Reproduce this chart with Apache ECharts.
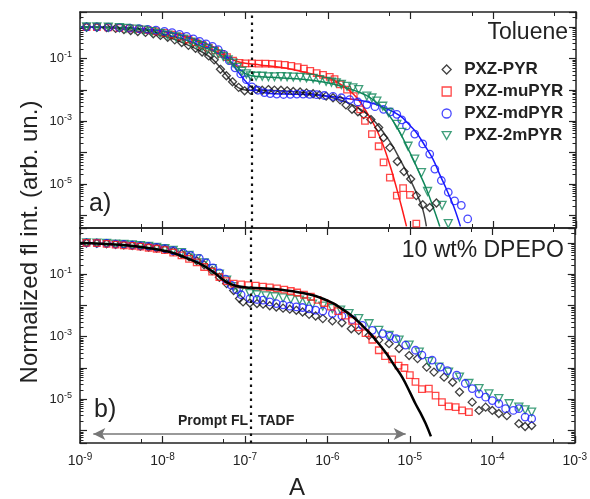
<!DOCTYPE html>
<html><head><meta charset="utf-8">
<script src="https://cdn.jsdelivr.net/npm/echarts@6/dist/echarts.min.js"></script>
<style>html,body{margin:0;padding:0;background:#fff}#c{width:590px;height:499px}</style>
</head><body><div id="c"></div>
<script>
// ---------- data (time in s, normalized intensity) ----------
const seriesNames = ['PXZ-PYR', 'PXZ-muPYR', 'PXZ-mdPYR', 'PXZ-2mPYR'];
const xTickExps = [-9, -8, -7, -6, -5, -4, -3];
const yTickExps = [-1, -3, -5];
const xRange = [1e-9, 1e-3];
const yRange = [4e-7, 3];
const splitTime = 1.19e-7;
const arrowSpan = [1.45e-9, 8.9e-6];
const arrowLevel = 7.8e-7;

// Toluene (panel a)
const tolPYR = [[1.2e-9,1.0],[1.6e-9,0.98],[2.1e-9,0.95],[2.7e-9,0.9],[3.4e-9,0.83],[4.1e-9,0.77],[5e-9,0.72],[6.2e-9,0.67],[7.7e-9,0.61],[9.4e-9,0.54],[1.15e-8,0.47],[1.4e-8,0.39],[1.7e-8,0.32],[2.05e-8,0.26],[2.5e-8,0.21],[3e-8,0.16],[3.6e-8,0.12],[4.2e-8,0.09],[5e-8,0.045],[5.9e-8,0.028],[7e-8,0.018],[8.3e-8,0.012],[9.8e-8,0.0093],[1.15e-7,0.0098],[1.35e-7,0.0103],[1.6e-7,0.0097],[1.9e-7,0.0102],[2.25e-7,0.0098],[2.7e-7,0.0097],[3.2e-7,0.0093],[3.8e-7,0.0089],[4.6e-7,0.0085],[5.5e-7,0.008],[6.6e-7,0.0075],[7.9e-7,0.0069],[9.5e-7,0.0063],[1.15e-6,0.0056],[1.4e-6,0.0048],[1.65e-6,0.0033],[1.95e-6,0.0024],[2.3e-6,0.002],[2.7e-6,0.00163],[3.3e-6,0.00113],[4.1e-6,0.00063],[4.7e-6,0.0003],[5.6e-6,0.000145],[6.9e-6,5.2e-5],[8.3e-6,2.5e-5],[1e-5,1.45e-5],[1.17e-5,4.3e-6],[1.4e-5,2.2e-6],[1.7e-5,1.8e-6],[2.05e-5,2.5e-6]];
const tolPYRFit = [[1e-9,1.0],[2e-9,0.96],[4e-9,0.8],[7e-9,0.64],[1.2e-8,0.46],[2e-8,0.27],[3e-8,0.16],[4e-8,0.095],[5e-8,0.05],[6e-8,0.028],[7.5e-8,0.014],[9e-8,0.0105],[1.2e-7,0.0097],[2e-7,0.0096],[3e-7,0.0092],[5e-7,0.0082],[1e-6,0.0061],[1.6e-6,0.0042],[2.3e-6,0.0027],[2.95e-6,0.0017],[3.8e-6,0.0009],[4.7e-6,0.00044],[6e-6,0.00017],[7.4e-6,6.2e-5],[9e-6,2.3e-5],[1.07e-5,8.9e-6],[1.2e-5,4.5e-6],[1.35e-5,2.1e-6],[1.45e-5,1.1e-6],[1.55e-5,4.5e-7]];
const tolMu = [[1.2e-9,1.0],[1.6e-9,1.0],[2.2e-9,0.97],[3e-9,0.94],[4e-9,0.9],[5.2e-9,0.85],[6.6e-9,0.8],[8.3e-9,0.73],[1.05e-8,0.65],[1.3e-8,0.57],[1.65e-8,0.49],[2.05e-8,0.4],[2.5e-8,0.33],[3e-8,0.27],[3.6e-8,0.22],[4.3e-8,0.18],[5.1e-8,0.14],[6e-8,0.11],[7.1e-8,0.085],[8.5e-8,0.072],[1e-7,0.069],[1.2e-7,0.069],[1.45e-7,0.068],[1.75e-7,0.068],[2.1e-7,0.067],[2.5e-7,0.065],[3e-7,0.062],[3.6e-7,0.058],[4.3e-7,0.053],[5.1e-7,0.047],[6.1e-7,0.04],[7.3e-7,0.034],[8.7e-7,0.03],[1.05e-6,0.026],[1.2e-6,0.022],[1.4e-6,0.015],[1.7e-6,0.0102],[2.05e-6,0.0063],[2.45e-6,0.0024],[2.8e-6,0.00102],[3.4e-6,0.00039],[4.1e-6,0.00016],[4.7e-6,4.9e-5],[5.6e-6,1.6e-5],[6.8e-6,4.3e-6],[8.1e-6,7.4e-6],[9.8e-6,4.5e-6],[1.17e-5,5.5e-7]];
const tolMuFit = [[1e-9,1.0],[3e-9,0.95],[7e-9,0.81],[1.2e-8,0.66],[1.8e-8,0.5],[2.5e-8,0.36],[3.4e-8,0.24],[4.3e-8,0.17],[5.4e-8,0.13],[6.5e-8,0.1],[8e-8,0.08],[1e-7,0.07],[1.5e-7,0.062],[2.9e-7,0.05],[4.6e-7,0.039],[7e-7,0.03],[1.15e-6,0.021],[1.6e-6,0.012],[2.05e-6,0.0071],[2.5e-6,0.0038],[2.95e-6,0.0019],[3.8e-6,0.0006],[4.7e-6,0.00016],[5.8e-6,3e-5],[6.8e-6,6.9e-6],[7.8e-6,1.8e-6],[8.9e-6,4.5e-7]];
const tolMd = [[1.2e-9,1.0],[1.6e-9,1.0],[2.2e-9,0.98],[3e-9,0.95],[4e-9,0.92],[5.2e-9,0.88],[6.6e-9,0.84],[8.3e-9,0.79],[1.05e-8,0.73],[1.3e-8,0.66],[1.6e-8,0.58],[1.95e-8,0.5],[2.35e-8,0.42],[2.8e-8,0.35],[3.35e-8,0.29],[4e-8,0.24],[4.7e-8,0.19],[5.5e-8,0.135],[6.4e-8,0.085],[7.5e-8,0.05],[8.8e-8,0.032],[1.03e-7,0.021],[1.2e-7,0.0125],[1.42e-7,0.0097],[1.7e-7,0.0082],[2e-7,0.0076],[2.4e-7,0.0073],[2.9e-7,0.0071],[3.5e-7,0.0072],[4.2e-7,0.0073],[5e-7,0.0073],[6e-7,0.0072],[7.3e-7,0.007],[9e-7,0.0066],[1.15e-6,0.0062],[1.45e-6,0.0056],[1.83e-6,0.0049],[2.3e-6,0.0041],[2.95e-6,0.0034],[3.7e-6,0.0029],[4.7e-6,0.0024],[5.7e-6,0.002],[6.8e-6,0.00166],[7.8e-6,0.0011],[8.9e-6,0.00071],[1.12e-5,0.00039],[1.4e-5,0.00019],[1.7e-5,9e-5],[1.96e-5,3e-5],[2.35e-5,1.3e-5],[2.85e-5,5.5e-6],[3.4e-5,2.9e-6],[4.1e-5,2.1e-6],[4.9e-5,7.8e-7]];
const tolMdFit = [[1e-9,1.0],[3e-9,0.96],[8e-9,0.8],[1.5e-8,0.6],[2.5e-8,0.4],[4e-8,0.24],[5e-8,0.17],[6e-8,0.11],[7e-8,0.065],[8e-8,0.04],[9e-8,0.027],[1e-7,0.019],[1.2e-7,0.012],[1.5e-7,0.0088],[2e-7,0.0076],[3e-7,0.0073],[4.6e-7,0.0072],[1.15e-6,0.006],[2.95e-6,0.0042],[5e-6,0.0026],[7.4e-6,0.0015],[9.5e-6,0.0008],[1.17e-5,0.00044],[1.5e-5,0.00016],[1.86e-5,6.2e-5],[2.25e-5,2e-5],[2.7e-5,7e-6],[3.3e-5,2e-6],[4e-5,4.5e-7]];
const tol2m = [[1.2e-9,1.0],[1.6e-9,1.0],[2.2e-9,0.98],[3e-9,0.95],[3.6e-9,0.91],[4.6e-9,0.86],[5.9e-9,0.79],[7.4e-9,0.71],[9.3e-9,0.63],[1.15e-8,0.55],[1.45e-8,0.48],[1.8e-8,0.41],[2.2e-8,0.33],[2.6e-8,0.28],[3e-8,0.24],[3.5e-8,0.2],[4.1e-8,0.166],[4.7e-8,0.14],[5.4e-8,0.115],[6.2e-8,0.09],[7.1e-8,0.071],[8e-8,0.052],[9.1e-8,0.039],[1.03e-7,0.032],[1.15e-7,0.028],[1.35e-7,0.027],[1.6e-7,0.027],[1.9e-7,0.026],[2.25e-7,0.026],[2.7e-7,0.0265],[3.2e-7,0.026],[3.8e-7,0.0255],[4.6e-7,0.025],[5.5e-7,0.024],[6.6e-7,0.023],[7.9e-7,0.021],[9.5e-7,0.0186],[1.1e-6,0.0175],[1.26e-6,0.0166],[1.45e-6,0.0148],[1.7e-6,0.0129],[2e-6,0.0115],[2.35e-6,0.0102],[2.95e-6,0.0063],[3.4e-6,0.0055],[3.9e-6,0.0044],[4.6e-6,0.003],[5.4e-6,0.0019],[6.8e-6,0.00079],[7.8e-6,0.00044],[9.3e-6,0.00016],[1.12e-5,6.2e-5],[1.35e-5,2.3e-5],[1.6e-5,5.8e-6],[2.4e-5,2.1e-6],[2.85e-5,5.5e-7]];
const tol2mFit = [[1e-9,1.0],[3e-9,0.95],[6e-9,0.8],[1e-8,0.6],[1.8e-8,0.41],[3e-8,0.24],[4.5e-8,0.15],[6e-8,0.095],[7.5e-8,0.06],[9e-8,0.04],[1.05e-7,0.031],[1.3e-7,0.027],[2e-7,0.025],[4.6e-7,0.022],[9.5e-7,0.017],[1.6e-6,0.012],[2.95e-6,0.0065],[4.7e-6,0.0025],[6e-6,0.0011],[7.4e-6,0.00044],[9e-6,0.00016],[1.07e-5,6.2e-5],[1.3e-5,2e-5],[1.55e-5,7e-6],[1.85e-5,2e-6],[2.25e-5,4.5e-7]];

// 10 wt% DPEPO (panel b)
const dpPYR = [[1.2e-9,1.0],[1.6e-9,0.98],[2.1e-9,0.95],[2.7e-9,0.9],[3.4e-9,0.87],[4.3e-9,0.83],[5.4e-9,0.79],[6.8e-9,0.74],[8.5e-9,0.69],[1.07e-8,0.63],[1.35e-8,0.54],[1.7e-8,0.45],[2.1e-8,0.36],[2.6e-8,0.27],[3.2e-8,0.2],[4e-8,0.13],[4.9e-8,0.08],[6e-8,0.05],[7.3e-8,0.03],[8.6e-8,0.0166],[9.5e-8,0.013],[1.15e-7,0.012],[1.4e-7,0.0115],[1.66e-7,0.011],[2e-7,0.0098],[2.4e-7,0.0089],[2.9e-7,0.0082],[3.5e-7,0.0076],[4.2e-7,0.007],[5e-7,0.0062],[6e-7,0.0052],[7.2e-7,0.0046],[8.8e-7,0.0038],[1.15e-6,0.0032],[1.5e-6,0.0028],[1.95e-6,0.0018],[2.4e-6,0.0016],[3.2e-6,0.0011],[4.2e-6,0.00078],[5.6e-6,0.0006],[7.4e-6,0.00042],[9.8e-6,0.00025],[1.24e-5,0.0002],[1.6e-5,0.000107],[1.96e-5,7.4e-5],[2.6e-5,5.1e-5],[3.3e-5,3.5e-5],[4e-5,1.7e-5],[5.7e-5,8.1e-6],[6.9e-5,4.4e-6],[8.3e-5,5.6e-6],[1e-4,4.4e-6],[1.2e-4,3.5e-6],[1.5e-4,3e-6],[2.1e-4,1.66e-6],[2.5e-4,1.35e-6],[3e-4,1.45e-6]];
const dpMu = [[1.2e-9,1.0],[1.6e-9,0.98],[2.1e-9,0.93],[2.7e-9,0.88],[3.4e-9,0.84],[4.3e-9,0.8],[5.4e-9,0.76],[6.8e-9,0.7],[8.5e-9,0.65],[1.07e-8,0.59],[1.35e-8,0.49],[1.7e-8,0.4],[2.1e-8,0.31],[2.6e-8,0.24],[3.2e-8,0.17],[4e-8,0.12],[4.9e-8,0.08],[6e-8,0.06],[7.3e-8,0.05],[9e-8,0.047],[1.1e-7,0.045],[1.35e-7,0.043],[1.65e-7,0.04],[2e-7,0.038],[2.45e-7,0.035],[3e-7,0.032],[3.6e-7,0.029],[4.3e-7,0.026],[5.2e-7,0.022],[6.3e-7,0.019],[7.6e-7,0.015],[9.2e-7,0.012],[1.1e-6,0.0092],[1.35e-6,0.0066],[1.65e-6,0.0047],[2e-6,0.0032],[2.4e-6,0.002],[2.9e-6,0.0013],[3.5e-6,0.0008],[4.2e-6,0.00037],[5e-6,0.00024],[6.1e-6,0.00019],[7.3e-6,0.00012],[8.6e-6,0.0001],[1e-5,5.9e-5],[1.17e-5,3.6e-5],[1.4e-5,2.1e-5],[1.7e-5,2.2e-5],[2.05e-5,1.3e-5],[2.45e-5,8.1e-6],[2.95e-5,5.9e-6],[3.6e-5,5.6e-6],[4.3e-5,4.4e-6],[5.2e-5,3.9e-6]];
const dpMd = [[1.2e-9,1.0],[1.6e-9,0.99],[2.1e-9,0.96],[2.7e-9,0.92],[3.4e-9,0.89],[4.3e-9,0.85],[5.4e-9,0.81],[6.8e-9,0.77],[8.5e-9,0.72],[1.07e-8,0.66],[1.35e-8,0.57],[1.8e-8,0.47],[2.2e-8,0.39],[2.8e-8,0.32],[3.4e-8,0.23],[4.1e-8,0.16],[4.9e-8,0.11],[5.8e-8,0.07],[6.8e-8,0.045],[7.9e-8,0.032],[9e-8,0.022],[1.15e-7,0.0166],[1.4e-7,0.0155],[1.66e-7,0.0148],[2e-7,0.013],[2.4e-7,0.0115],[2.9e-7,0.0105],[3.5e-7,0.0095],[4.2e-7,0.009],[5e-7,0.0086],[6e-7,0.0078],[7.2e-7,0.0071],[8.8e-7,0.0066],[1.15e-6,0.0055],[1.5e-6,0.0046],[2e-6,0.0035],[2.65e-6,0.0023],[3.5e-6,0.0016],[4.7e-6,0.00126],[5.7e-6,0.00105],[6.8e-6,0.00087],[8.9e-6,0.00054],[1.17e-5,0.00037],[1.4e-5,0.00026],[1.86e-5,0.00018],[2.35e-5,0.000107],[2.85e-5,8.3e-5],[3.7e-5,5.9e-5],[4.7e-5,3.2e-5],[5.7e-5,2.2e-5],[6.9e-5,1.5e-5],[8.3e-5,1.17e-5],[1e-4,9.1e-6],[1.2e-4,7.2e-6],[1.45e-4,5e-6],[1.8e-4,4.4e-6],[2.1e-4,5e-6],[2.5e-4,2.7e-6],[3e-4,2.4e-6]];
const dp2m = [[1.2e-9,1.0],[1.6e-9,0.99],[2.1e-9,0.96],[2.7e-9,0.92],[3.4e-9,0.89],[4.3e-9,0.86],[5.4e-9,0.82],[6.8e-9,0.77],[8.5e-9,0.72],[1.07e-8,0.66],[1.35e-8,0.58],[1.7e-8,0.49],[2.1e-8,0.4],[2.6e-8,0.31],[3.2e-8,0.23],[4e-8,0.15],[4.9e-8,0.1],[6e-8,0.065],[7.3e-8,0.04],[8.6e-8,0.0275],[1.15e-7,0.024],[1.4e-7,0.022],[1.8e-7,0.0204],[2.3e-7,0.019],[2.9e-7,0.0174],[3.6e-7,0.016],[4.6e-7,0.0148],[5.6e-7,0.013],[6.6e-7,0.011],[8.8e-7,0.0095],[1.15e-6,0.0079],[1.45e-6,0.0071],[1.83e-6,0.0055],[2.4e-6,0.0038],[3.2e-6,0.0026],[4.2e-6,0.0016],[5.6e-6,0.0011],[7.4e-6,0.00078],[9.8e-6,0.00054],[1.3e-5,0.00032],[1.7e-5,0.00016],[2.25e-5,0.000107],[2.95e-5,7.4e-5],[4e-5,5.1e-5],[5.2e-5,3.2e-5],[6.9e-5,2.2e-5],[9.1e-5,1.5e-5],[1.2e-4,1.05e-5],[1.6e-4,7.2e-6],[2.1e-4,5.6e-6],[2.5e-4,4.6e-6],[3e-4,3.9e-6]];
const dpFit = [[1e-9,1.0],[3e-9,0.88],[7e-9,0.68],[1.2e-8,0.52],[1.8e-8,0.36],[2.8e-8,0.22],[4.1e-8,0.12],[5.9e-8,0.057],[7.9e-8,0.042],[1.15e-7,0.037],[2e-7,0.034],[2.9e-7,0.031],[4.6e-7,0.026],[7.2e-7,0.02],[1.15e-6,0.012],[1.5e-6,0.0078],[1.95e-6,0.0048],[2.6e-6,0.0024],[3.3e-6,0.00126],[4.2e-6,0.0006],[5.25e-6,0.00028],[6.5e-6,0.00012],[8.1e-6,5e-5],[1e-5,1.7e-5],[1.17e-5,7.2e-6],[1.35e-5,3.6e-6],[1.55e-5,1.7e-6],[1.8e-5,6.5e-7]];

// ---------- styling ----------
const FF = '"Liberation Sans", Arial, sans-serif';
const INK = '#222';
const COL = {black: '#111', red: '#ff1a1a', blue: '#1a1aff', green: '#10875a', grey: '#444'};

function expOf(v) { const l = Math.log10(v); const e = Math.round(l); return Math.abs(l - e) < 0.01 ? e : null; }
const labelRich = (b, s) => ({
  b: {fontSize: b, fontFamily: FF, color: INK, lineHeight: b + 4},
  s: {fontSize: s, fontFamily: FF, color: INK, lineHeight: s + 1, verticalAlign: 'top'}
});

function xAx(gridIndex, position, showLabel) {
  return {
    type: 'log', logBase: 10, gridIndex, position, min: xRange[0], max: xRange[1],
    axisLine: {show: true, onZero: false, lineStyle: {color: INK, width: 1.5}},
    axisTick: {show: true, inside: true, length: 7, interval: 0, lineStyle: {color: INK, width: 1.2}},
    minorTick: {show: true, splitNumber: 2, length: 4, lineStyle: {color: INK, width: 1}},
    splitLine: {show: false}, minorSplitLine: {show: false},
    axisLabel: {show: showLabel, interval: 0, margin: 9, rich: labelRich(14, 10),
      formatter: v => { const e = expOf(v); return (e !== null && xTickExps.includes(e)) ? '{b|10}{s|' + e + '}' : ''; }}
  };
}
function yAx(gridIndex, position, showLabel) {
  return {
    type: 'log', logBase: 10, gridIndex, position, min: yRange[0], max: yRange[1],
    axisLine: {show: true, onZero: false, lineStyle: {color: INK, width: 1.5}},
    axisTick: {show: true, inside: true, length: 7, interval: 0, lineStyle: {color: INK, width: 1.2}},
    minorTick: {show: true, splitNumber: 9, length: 3.5, lineStyle: {color: INK, width: 1}},
    splitLine: {show: false}, minorSplitLine: {show: false},
    axisLabel: {show: showLabel, interval: 0, margin: 8, rich: labelRich(13, 9),
      formatter: v => { const e = expOf(v); return (e !== null && yTickExps.includes(e)) ? '{b|10}{s|' + e + '}' : ''; }}
  };
}

const markers = [
  {sym: 'diamond', size: 8, rot: 0, color: COL.black},
  {sym: 'rect', size: 6.5, rot: 0, color: COL.red},
  {sym: 'circle', size: 7.5, rot: 0, color: COL.blue},
  {sym: 'triangle', size: 8, rot: 180, color: COL.green}
];
const legendIcons = ['diamond', 'rect', 'circle', 'path://M0,0L10,0L5,8.7Z'];
function pts(i, data, ax, extra) {
  const m = markers[i];
  return Object.assign({
    type: 'scatter', name: seriesNames[i], xAxisIndex: ax, yAxisIndex: ax, data,
    symbol: m.sym, symbolSize: m.size, symbolRotate: m.rot, z: 3,
    itemStyle: {color: 'rgba(255,255,255,0)', borderColor: m.color, borderWidth: 1.3},
    emphasis: {disabled: true}
  }, extra || {});
}
function fit(data, ax, color, width, extra) {
  return Object.assign({
    type: 'line', name: 'fit', xAxisIndex: ax, yAxisIndex: ax, data, smooth: 0.4,
    showSymbol: false, symbol: 'none', silent: true, z: 2,
    lineStyle: {color, width}
  }, extra || {});
}
const dotted = {markLine: {silent: true, symbol: 'none', label: {show: false},
  lineStyle: {type: [2.5, 4.5], color: '#111', width: 2.2},
  data: [[{coord: [splitTime, yRange[0]]}, {coord: [splitTime, yRange[1]]}]]}};

const option = {
  animation: false,
  backgroundColor: '#fff',
  grid: [
    {left: 80, right: 14, top: 12, height: 216},
    {left: 80, right: 14, top: 228, height: 215}
  ],
  xAxis: [xAx(0, 'bottom', false), xAx(0, 'top', false), xAx(1, 'bottom', true), xAx(1, 'top', false)],
  yAxis: [yAx(0, 'left', true), yAx(0, 'right', false), yAx(1, 'left', true), yAx(1, 'right', false)],
  legend: {
    data: seriesNames.map((n, i) => ({name: n, icon: legendIcons[i]})),
    orient: 'vertical', left: 436.5, top: 56, selectedMode: false,
    itemWidth: 9, itemHeight: 9, itemGap: 5, symbolRotate: 0,
    itemStyle: {borderWidth: 1.3},
    textStyle: {fontFamily: FF, fontSize: 17, fontWeight: 'bold', color: INK, lineHeight: 17, padding: [0, 0, 0, 8]}
  },
  series: [
    fit(tolPYRFit, 0, COL.grey, 1.5, dotted),
    fit(tolMuFit, 0, COL.red, 1.5),
    fit(tolMdFit, 0, COL.blue, 1.5),
    fit(tol2mFit, 0, COL.green, 1.5),
    pts(0, tolPYR, 0), pts(1, tolMu, 0), pts(2, tolMd, 0), pts(3, tol2m, 0),
    pts(0, dpPYR, 2, {markLine: {silent: true, symbol: ['arrow', 'arrow'], symbolSize: [9, 12], label: {show: false},
      lineStyle: {type: 'solid', color: '#777', width: 1.5},
      data: [[{coord: [arrowSpan[0], arrowLevel]}, {coord: [arrowSpan[1], arrowLevel]}]]}}),
    pts(3, dp2m, 2), pts(2, dpMd, 2), pts(1, dpMu, 2),
    fit(dpFit, 2, '#000', 2.5, Object.assign({z: 4}, dotted))
  ],
  graphic: [
    {type: 'text', x: 568, y: 33, style: {text: 'Toluene', fontFamily: FF, fontSize: 23, fill: INK, align: 'right', verticalAlign: 'middle'}},
    {type: 'text', x: 564, y: 251, style: {text: '10 wt% DPEPO', fontFamily: FF, fontSize: 23, fill: INK, align: 'right', verticalAlign: 'middle'}},
    {type: 'text', x: 89, y: 204, style: {text: 'a)', fontFamily: FF, fontSize: 25, fill: INK, align: 'left', verticalAlign: 'middle'}},
    {type: 'text', x: 94, y: 410, style: {text: 'b)', fontFamily: FF, fontSize: 25, fill: INK, align: 'left', verticalAlign: 'middle'}},
    {type: 'text', x: 248, y: 421, style: {text: 'Prompt FL', fontFamily: FF, fontSize: 14, fontWeight: 'bold', fill: INK, align: 'right', verticalAlign: 'middle'}},
    {type: 'text', x: 258, y: 421, style: {text: 'TADF', fontFamily: FF, fontSize: 14, fontWeight: 'bold', fill: INK, align: 'left', verticalAlign: 'middle'}},
    {type: 'text', x: 30, y: 242, rotation: Math.PI / 2, style: {text: 'Normalized fl int. (arb. un.)', fontFamily: FF, fontSize: 24, fill: INK, align: 'center', verticalAlign: 'middle'}},
    {type: 'text', x: 297, y: 488, style: {text: 'A', fontFamily: FF, fontSize: 24, fill: INK, align: 'center', verticalAlign: 'middle'}}
  ]
};
const chart = echarts.init(document.getElementById('c'), null, {renderer: 'canvas'});
chart.setOption(option);
</script></body></html>
